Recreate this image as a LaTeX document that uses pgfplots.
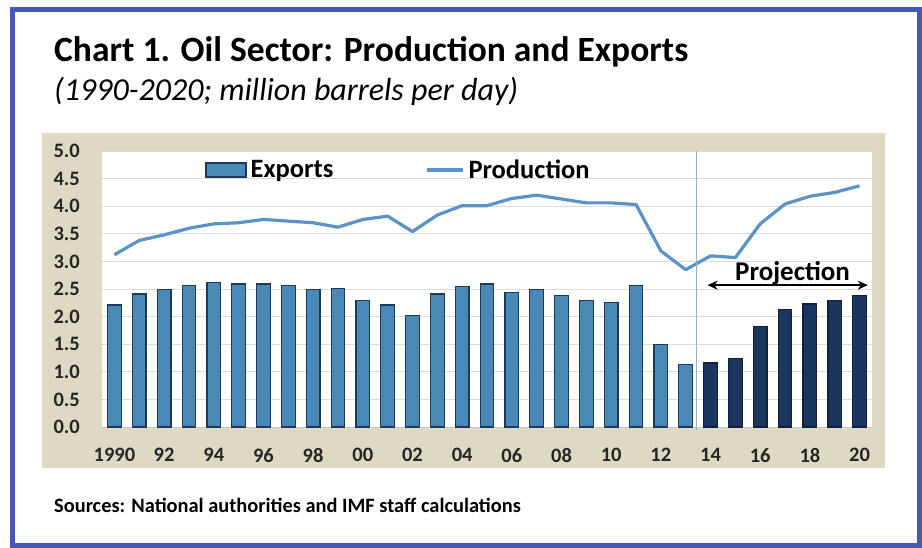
\documentclass[border=0pt]{standalone}
\usepackage{pgfplots}
\pgfplotsset{compat=1.18}
\usepackage{pgfplotstable}
\usepackage{fontspec}
\setmainfont{Carlito}
\usetikzlibrary{arrows.meta}
\definecolor{frameblue}{HTML}{4558B5}
\definecolor{panel}{HTML}{DDD9C3}
\definecolor{barlight}{HTML}{4A88B8}
\definecolor{barlightedge}{HTML}{1E3A5A}
\definecolor{bardark}{HTML}{1B365E}
\definecolor{bardarkedge}{HTML}{0E203C}
\definecolor{prodline}{HTML}{5B92C8}
\definecolor{vline}{HTML}{8FB0D2}

\pgfplotstableread{
year exports
1990 2.21
1991 2.41
1992 2.49
1993 2.57
1994 2.62
1995 2.59
1996 2.59
1997 2.57
1998 2.49
1999 2.51
2000 2.29
2001 2.21
2002 2.02
2003 2.41
2004 2.55
2005 2.59
2006 2.43
2007 2.49
2008 2.38
2009 2.29
2010 2.26
2011 2.56
2012 1.49
2013 1.13
}\hist

\pgfplotstableread{
year exports
2014 1.16
2015 1.24
2016 1.82
2017 2.13
2018 2.23
2019 2.29
2020 2.38
}\proj

\pgfplotstableread{
year production
1990 3.12
1991 3.38
1992 3.48
1993 3.60
1994 3.68
1995 3.70
1996 3.76
1997 3.73
1998 3.70
1999 3.62
2000 3.76
2001 3.82
2002 3.54
2003 3.84
2004 4.01
2005 4.01
2006 4.14
2007 4.20
2008 4.13
2009 4.06
2010 4.06
2011 4.03
2012 3.19
2013 2.85
2014 3.10
2015 3.07
2016 3.68
2017 4.04
2018 4.18
2019 4.25
2020 4.37
}\prod

\begin{document}
\begin{tikzpicture}
\fill[white] (0pt,0pt) rectangle (922pt,-548pt);
\draw[frameblue, line width=5pt] (12pt,-10pt) rectangle (919pt,-545pt);
\fill[panel] (42pt,-133pt) rectangle (885pt,-468pt);
\node[anchor=base west, inner sep=0pt, font=\bfseries\fontsize{35.5}{40}\selectfont] at (54pt,-62pt) {Chart 1. Oil Sector: Production and Exports};
\node[anchor=base west, inner sep=0pt, font=\itshape\fontsize{32}{36}\selectfont] at (54pt,-101pt) {(1990-2020; million barrels per day)};
\node[anchor=base west, inner sep=0pt, font=\bfseries\fontsize{20.4}{24}\selectfont] at (54pt,-512pt) {Sources: National authorities and IMF staff calculations};

\begin{axis}[
  at={(102pt,-427pt)}, anchor=south west,
  scale only axis, width=770pt, height=276pt,
  xmin=1989.5, xmax=2020.5, ymin=0, ymax=5,
  axis background/.style={fill=white},
  axis x line=bottom, axis y line=left,
  x axis line style={draw=gray!45, line width=1pt, -},
  y axis line style={draw=none},
  major tick length=0pt,
  xtick={1990,1992,...,2020},
  xticklabels={1990,92,94,96,98,00,02,04,06,08,10,12,14,16,18,20},
  ytick={0,0.5,...,5},
  ymajorgrids, grid style={draw=gray!28, line width=0.9pt},
  /pgf/number format/assume math mode=true,
  yticklabel={\pgfmathprintnumber[fixed,fixed zerofill,precision=1]{\tick}},
  ticklabel style={font=\bfseries\fontsize{20.5}{24}\selectfont, text=black!85},
  yticklabel style={anchor=east, inner sep=0pt, xshift=-22pt},
  xticklabel style={anchor=north, inner sep=0pt, yshift=-21pt},
  legend columns=2,
  legend style={at={(0.134,0.931)}, anchor=west, draw=none, fill=none,
    font=\bfseries\fontsize{26.5}{30}\selectfont, inner sep=0pt,
    nodes={inner xsep=4pt, inner ysep=0pt},
    /tikz/every even column/.append style={column sep=88pt}},
  clip=false,
]
\addplot[ybar, bar shift=0pt, bar width=0.55, fill=barlight, draw=barlightedge, line width=1.2pt,
  legend image code/.code={\draw[fill=barlight, draw=barlightedge, line width=1.2pt] (0pt,-7pt) rectangle (40pt,7pt);}]
  table[x=year, y=exports]{\hist};
\addlegendentry{Exports}
\addplot[ybar, bar shift=0pt, bar width=0.55, fill=bardark, draw=bardarkedge, line width=1.2pt, forget plot]
  table[x=year, y=exports]{\proj};
\addplot[prodline, line width=3.2pt, mark=none, line join=round,
  legend image code/.code={\draw[prodline, line width=3.2pt] (0pt,0pt) -- (36pt,0pt);}]
  table[x=year, y=production]{\prod};
\addlegendentry{Production}
\draw[vline, line width=1pt] (axis cs:2013.45,-0.05) -- (axis cs:2013.45,5);
\draw[{Stealth[length=10pt,width=9pt]}-{Stealth[length=10pt,width=9pt]}, line width=1.6pt, black]
  (axis cs:2013.88,2.57) -- (axis cs:2020.33,2.57);
\node[anchor=base, inner sep=0pt, font=\bfseries\fontsize{27}{30}\selectfont] at (axis cs:2017.3,2.66) {Projection};
\end{axis}
\end{tikzpicture}
\end{document}
